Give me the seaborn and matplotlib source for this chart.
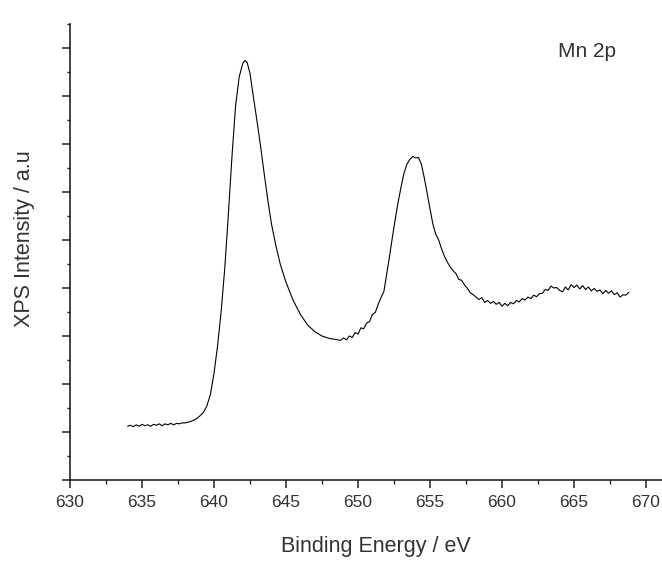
import numpy as np
import pandas as pd
import seaborn as sns
import matplotlib.pyplot as plt
from matplotlib.ticker import MultipleLocator, NullFormatter

# Mn 2p XPS spectrum
# flat baseline before the 2p3/2 peak
x_base = [634.0, 634.2, 634.4, 634.6, 634.8, 635.0, 635.2, 635.4, 635.6, 635.8,
          636.0, 636.2, 636.4, 636.6, 636.8, 637.0, 637.2, 637.4, 637.6, 637.8, 638.0]
y_base = [1.12, 1.14, 1.11, 1.15, 1.12, 1.16, 1.13, 1.15, 1.12, 1.16,
          1.14, 1.17, 1.13, 1.17, 1.15, 1.18, 1.15, 1.18, 1.17, 1.19, 1.19]

# smooth 2p3/2 peak
x_main = [638.4, 638.8, 639.0, 639.25, 639.5, 639.75, 640.0, 640.25, 640.5, 640.75,
          641.0, 641.25, 641.5, 641.75, 642.0, 642.15, 642.3, 642.5, 642.75, 643.0,
          643.25, 643.5, 643.75, 644.0, 644.3, 644.6, 645.0, 645.5, 646.0, 646.5,
          647.0, 647.5, 648.0, 648.4]
y_main = [1.22, 1.28, 1.33, 1.40, 1.54, 1.78, 2.22, 2.80, 3.52, 4.42,
          5.55, 6.75, 7.80, 8.40, 8.68, 8.74, 8.70, 8.47, 7.95, 7.45,
          6.92, 6.35, 5.80, 5.32, 4.88, 4.50, 4.12, 3.74, 3.45, 3.23,
          3.09, 3.00, 2.95, 2.93]

# noisy 2p1/2 peak and satellite
x_tail = [648.8, 649.0, 649.2, 649.4, 649.6, 649.8, 650.0, 650.2, 650.4, 650.6,
          650.8, 651.0, 651.2, 651.4, 651.6, 651.8, 652.0, 652.2, 652.4, 652.6,
          652.8, 653.0, 653.2, 653.4, 653.6, 653.8, 654.0, 654.2, 654.4, 654.6,
          654.8, 655.0, 655.2, 655.4, 655.6, 655.8, 656.0, 656.2, 656.4, 656.6,
          656.8, 657.0, 657.2, 657.4, 657.6, 657.8, 658.0, 658.2, 658.4, 658.6,
          658.8, 659.0, 659.2, 659.4, 659.6, 659.8, 660.0, 660.2, 660.4, 660.6,
          660.8, 661.0, 661.2, 661.4, 661.6, 661.8, 662.0, 662.2, 662.4, 662.6,
          662.8, 663.0, 663.2, 663.4, 663.6, 663.8, 664.0, 664.2, 664.4, 664.6,
          664.8, 665.0, 665.2, 665.4, 665.6, 665.8, 666.0, 666.2, 666.4, 666.6,
          666.8, 667.0, 667.2, 667.4, 667.6, 667.8, 668.0, 668.2, 668.4, 668.6, 668.8]
y_tail = [2.91, 2.96, 2.92, 3.00, 2.97, 3.07, 3.04, 3.17, 3.15, 3.27,
          3.30, 3.45, 3.49, 3.66, 3.80, 3.93, 4.30, 4.68, 5.08, 5.46,
          5.81, 6.12, 6.40, 6.58, 6.68, 6.74, 6.71, 6.72, 6.58, 6.30,
          5.98, 5.66, 5.33, 5.12, 5.00, 4.82, 4.66, 4.54, 4.44, 4.36,
          4.30, 4.18, 4.16, 4.06, 3.99, 3.90, 3.86, 3.81, 3.76, 3.80,
          3.70, 3.74, 3.68, 3.72, 3.66, 3.70, 3.62, 3.68, 3.63, 3.70,
          3.67, 3.74, 3.71, 3.78, 3.75, 3.81, 3.78, 3.85, 3.82, 3.88,
          3.89, 3.97, 3.95, 4.04, 4.00, 4.01, 3.95, 3.92, 4.02, 3.96,
          4.07, 4.01, 4.06, 3.98, 4.05, 3.97, 4.02, 3.94, 3.99, 3.93,
          3.96, 3.88, 3.95, 3.89, 3.94, 3.86, 3.90, 3.81, 3.86, 3.85, 3.91]

df = pd.DataFrame({
    'energy': x_base + x_main + x_tail,
    'intensity': y_base + y_main + y_tail,
})

sns.set_theme(style='ticks')
plt.rcParams['font.family'] = ['Liberation Sans', 'DejaVu Sans']

fig = plt.figure(figsize=(6.62, 5.63), dpi=100)
ax = fig.add_axes([70 / 662, 83 / 563, 612 / 662, 456 / 563])

sns.lineplot(data=df, x='energy', y='intensity', sort=False, color='black',
             linewidth=0.8, ax=ax)

ax.set_xlim(630, 672.5)
ax.set_ylim(0, 9.5)
ax.xaxis.set_major_locator(MultipleLocator(5))
ax.xaxis.set_minor_locator(MultipleLocator(2.5))
ax.yaxis.set_major_locator(MultipleLocator(1))
ax.yaxis.set_minor_locator(MultipleLocator(0.5))
ax.yaxis.set_major_formatter(NullFormatter())
ax.set_xticks([630, 635, 640, 645, 650, 655, 660, 665, 670])

for s in ['top', 'right']:
    ax.spines[s].set_visible(False)
for s in ['left', 'bottom']:
    ax.spines[s].set_linewidth(1.2)
    ax.spines[s].set_color('#222222')

ax.tick_params(which='major', length=6, width=1.1, color='#222222',
               labelsize=12.5, labelcolor='#333333', pad=5)
ax.tick_params(which='minor', length=3, width=1.0, color='#222222')
ax.tick_params(axis='y', which='minor', length=2.5)

ax.set_xlabel('Binding Energy / eV', fontsize=15.5, color='#333333')
ax.set_ylabel('XPS Intensity / a.u', fontsize=15.5, color='#333333')
ax.xaxis.set_label_coords(0.5, -0.123)
ax.yaxis.set_label_coords(-0.057, 0.53)

ax.text(665.9, 8.81, 'Mn 2p', fontsize=15, color='#333333', ha='center', va='baseline')

fig.savefig('out.png', dpi=100)
